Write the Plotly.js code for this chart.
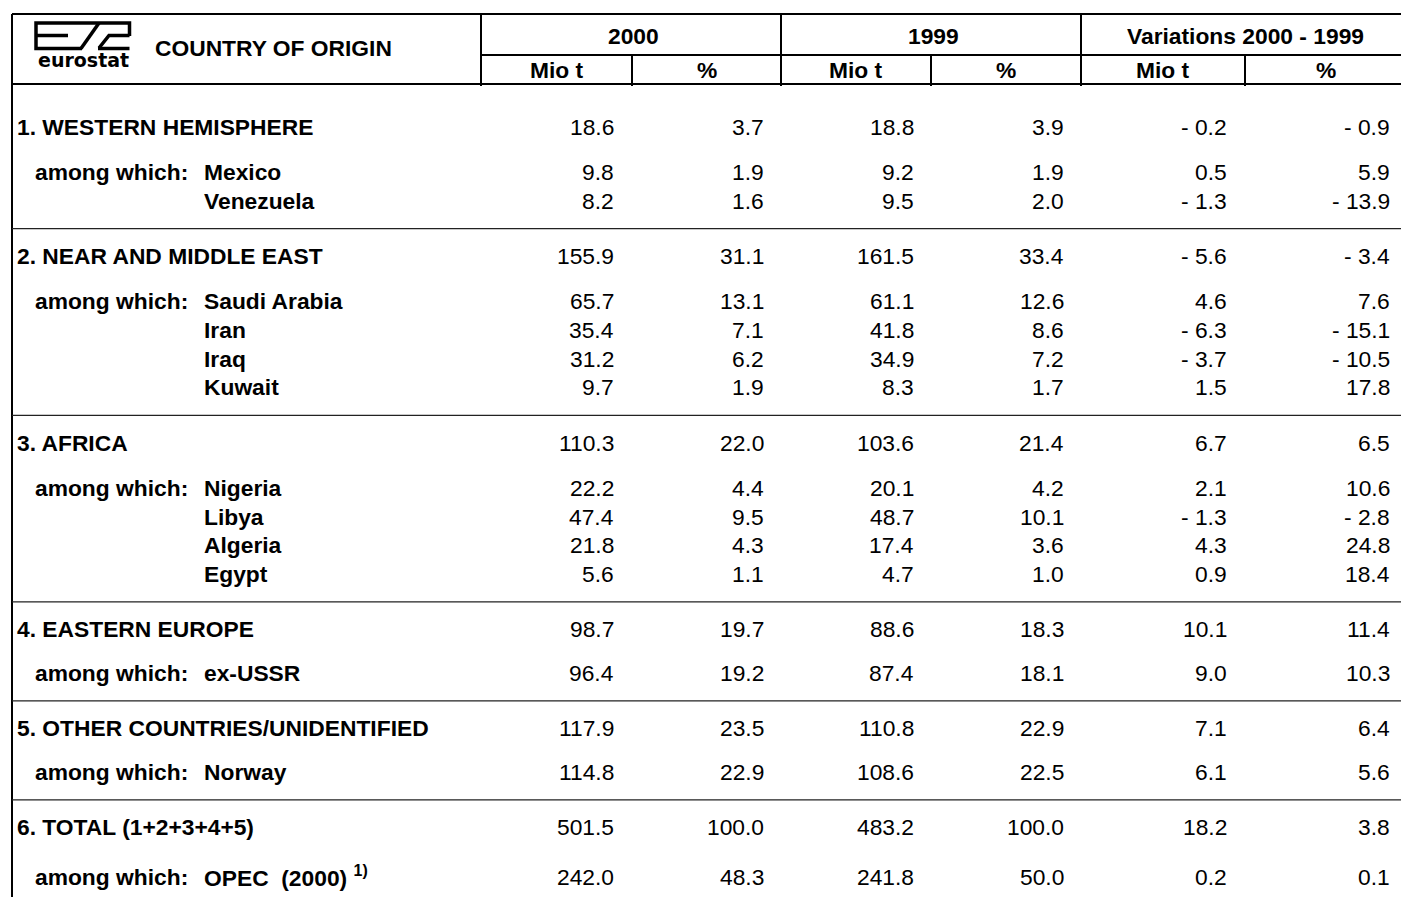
<!DOCTYPE html>
<html>
<head>
<meta charset="utf-8">
<script src="https://cdn.plot.ly/plotly-3.0.1.min.js"></script>
<style>html,body{margin:0;padding:0;background:#fff;}#chart{width:1401px;height:897px;}</style>
</head>
<body>
<div id="chart"></div>
<script>
// ---------------- DATA ----------------
const rowLabels = ["1. WESTERN HEMISPHERE","Mexico","Venezuela",
  "2. NEAR AND MIDDLE EAST","Saudi Arabia","Iran","Iraq","Kuwait",
  "3. AFRICA","Nigeria","Libya","Algeria","Egypt",
  "4. EASTERN EUROPE","ex-USSR",
  "5. OTHER COUNTRIES/UNIDENTIFIED","Norway",
  "6. TOTAL (1+2+3+4+5)","OPEC\u00a0\u00a0(2000)"];
const rowLevel = [0,1,1, 0,1,1,1,1, 0,1,1,1,1, 0,1, 0,1, 0,1];
const footnoteMark = ["","","","","","","","","","","","","","","","","","","1)"];
const mio2000 = [18.6,9.8,8.2, 155.9,65.7,35.4,31.2,9.7, 110.3,22.2,47.4,21.8,5.6, 98.7,96.4, 117.9,114.8, 501.5,242.0];
const pct2000 = [3.7,1.9,1.6, 31.1,13.1,7.1,6.2,1.9, 22.0,4.4,9.5,4.3,1.1, 19.7,19.2, 23.5,22.9, 100.0,48.3];
const mio1999 = [18.8,9.2,9.5, 161.5,61.1,41.8,34.9,8.3, 103.6,20.1,48.7,17.4,4.7, 88.6,87.4, 110.8,108.6, 483.2,241.8];
const pct1999 = [3.9,1.9,2.0, 33.4,12.6,8.6,7.2,1.7, 21.4,4.2,10.1,3.6,1.0, 18.3,18.1, 22.9,22.5, 100.0,50.0];
const varMio  = [-0.2,0.5,-1.3, -5.6,4.6,-6.3,-3.7,1.5, 6.7,2.1,-1.3,4.3,0.9, 10.1,9.0, 7.1,6.1, 18.2,0.2];
const varPct  = [-0.9,5.9,-13.9, -3.4,7.6,-15.1,-10.5,17.8, 6.5,10.6,-2.8,24.8,18.4, 11.4,10.3, 6.4,5.6, 3.8,0.1];
const headerTitle = "COUNTRY OF ORIGIN";
const logoText = "eurostat";
const groupHeaders = ["2000","1999","Variations 2000 - 1999"];
const subHeaders = ["Mio t","%","Mio t","%","Mio t","%"];
const amongLabel = "among which:";

// ---------------- LAYOUT GEOMETRY ----------------
const W = 1401, H = 897;
const FONT = "Liberation Sans, Arial, sans-serif";
const FS = 22.8;
const tableLeft = 12, tableTop = 14, headMid = 55, headBottom = 84;
const colEdges = [481, 632, 781, 931, 1081, 1245, W];
const colRight = [616, 766, 916, 1066, 1229, 1392];
const valueCols = [mio2000, pct2000, mio1999, pct1999, varMio, varPct];

// row placement by rules: group heads, sub-rows, separators
const FIRST_OFFSET = 43, LINE_GAP = 28, AFTER_LINE = 27.5, SUB_GAP = 28.7;
const HEAD_TO_SUB_MULTI = 45, HEAD_TO_SUB_SINGLE = 43.5, FOOTNOTE_EXTRA = 6;
function subCount(i) { let n = 0; for (let k = i + 1; k < rowLevel.length && rowLevel[k] === 1; k++) n++; return n; }
const rowY = [], sepY = [];
let y = headBottom + FIRST_OFFSET, curHead = 0;
for (let i = 0; i < rowLabels.length; i++) {
  if (i > 0) {
    if (rowLevel[i] === 0) { y += LINE_GAP; sepY.push(y); y += AFTER_LINE; curHead = i; }
    else if (rowLevel[i-1] === 0) {
      y += subCount(curHead) > 1 ? HEAD_TO_SUB_MULTI : HEAD_TO_SUB_SINGLE;
      if (footnoteMark[i]) y += FOOTNOTE_EXTRA;
    }
    else { y += SUB_GAP; }
  }
  rowY.push(y);
}

function fmt(v) {
  const s = Math.abs(v).toFixed(1);
  return v < 0 ? "- " + s : s;
}

const ann = [];
function A(x, yy, text, opts) {
  ann.push(Object.assign({x: x, y: yy, xref: "x", yref: "y", text: text, showarrow: false,
    xanchor: "left", yanchor: "middle",
    font: {family: FONT, size: FS, color: "#000"}}, opts || {}));
}
const bold = (s) => "<b>" + s + "</b>";

// header texts
A(153, 48, bold(headerTitle));
A(83, 60, bold(logoText), {xanchor: "center", font: {family: "DejaVu Sans, sans-serif", size: 19, color: "#000"}});
for (let g = 0; g < 3; g++) {
  const cx = (colEdges[2*g] + colEdges[2*g+2]) / 2;
  A(cx + (g === 2 ? 4 : 2), 36, bold(groupHeaders[g]), {xanchor: "center"});
}
for (let c = 0; c < 6; c++) {
  const cx = (colEdges[c] + colEdges[c+1]) / 2;
  A(cx + (c === 5 ? 3 : 0), 70, bold(subHeaders[c]), {xanchor: "center"});
}

// body
for (let i = 0; i < rowLabels.length; i++) {
  if (rowLevel[i] === 0) {
    A(15, rowY[i], bold(rowLabels[i]));
  } else {
    if (rowLevel[i-1] === 0) A(33, rowY[i], bold(amongLabel));
    let t = bold(rowLabels[i]);
    if (footnoteMark[i]) t += " <sup><b>" + footnoteMark[i] + "</b></sup>";
    A(202, rowY[i], t);
  }
  for (let c = 0; c < 6; c++) {
    A(colRight[c], rowY[i], fmt(valueCols[c][i]), {xanchor: "right"});
  }
}

// lines
const shapes = [];
function L(x0, y0, x1, y1, w, col) {
  shapes.push({type: "line", xref: "x", yref: "y", x0: x0, y0: y0, x1: x1, y1: y1,
    line: {color: col || "#000", width: w}});
}
L(tableLeft, tableTop, W, tableTop, 2);
L(tableLeft, tableTop, tableLeft, H, 2);
L(colEdges[0], headMid, W, headMid, 2);
L(tableLeft, headBottom, W, headBottom, 2);
[0, 2, 4].forEach(k => L(colEdges[k], tableTop, colEdges[k], headBottom + 2, 2));
[1, 3, 5].forEach(k => L(colEdges[k], headMid, colEdges[k], headBottom + 2, 2));
sepY.forEach(s => L(tableLeft, s, W, s, 1.2, "#222"));

// eurostat emblem
function P(path, w) {
  shapes.push({type: "path", xref: "x", yref: "y", path: path, line: {color: "#000", width: w || 3.5}});
}
P("M 82 48.5 L 36 48.5 L 36 23 L 129.5 23 L 129.5 36");   // frame: bottom-left, left, top, right
P("M 36 35.5 L 68 35.5");                                  // E middle bar
P("M 81 48.5 L 99 23");                                    // slash
P("M 98 48.5 L 129.5 48.5");                               // S bottom bar
P("M 99 48 L 109 35.5 L 129.5 35.5");                      // S diagonal + middle

const layout = {
  width: W, height: H,
  margin: {l: 0, r: 0, t: 0, b: 0},
  paper_bgcolor: "#fff", plot_bgcolor: "#fff",
  xaxis: {range: [0, W], visible: false, fixedrange: true},
  yaxis: {range: [H, 0], visible: false, fixedrange: true},
  showlegend: false,
  annotations: ann,
  shapes: shapes
};
Plotly.newPlot("chart", [], layout, {displayModeBar: false, staticPlot: true});
</script>
</body>
</html>
